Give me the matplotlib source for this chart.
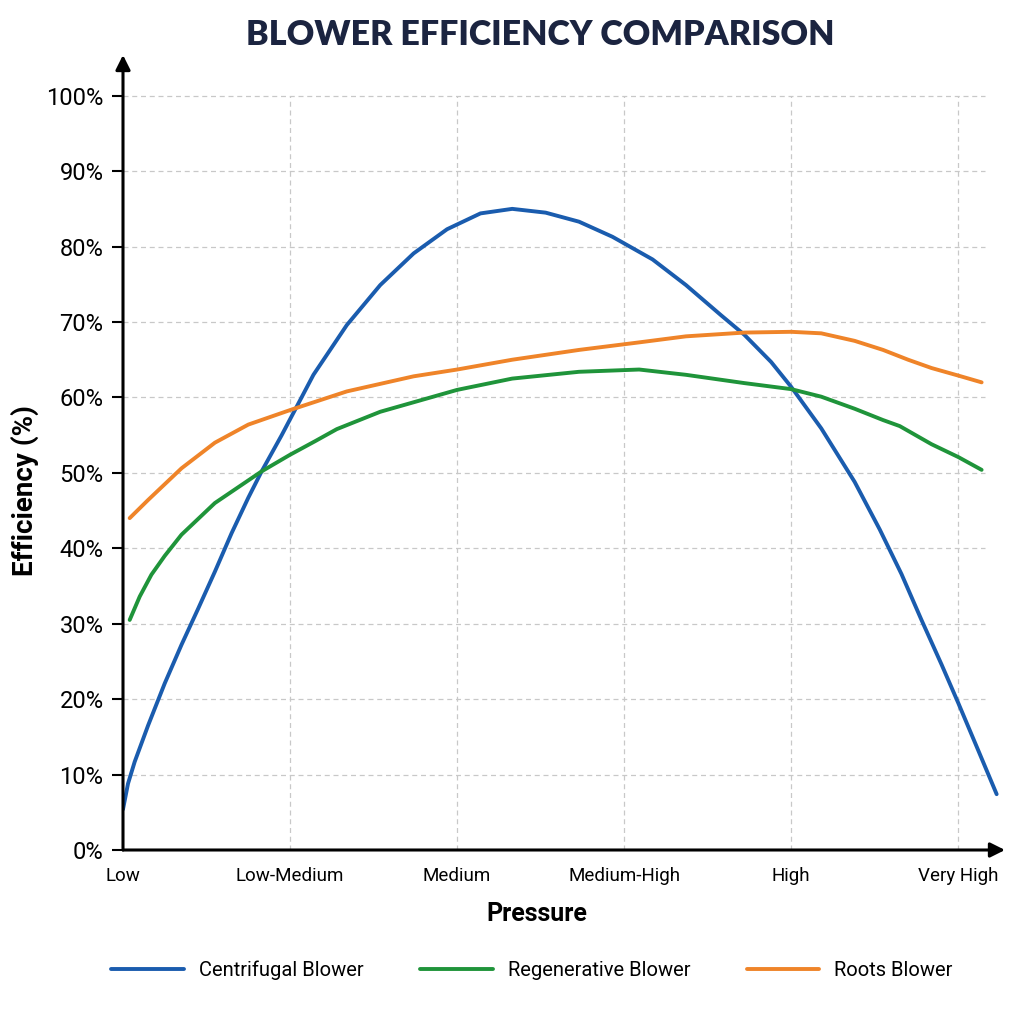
import matplotlib.pyplot as plt
from matplotlib import font_manager

# pressure categories on x axis
categories = ['Low', 'Low-Medium', 'Medium', 'Medium-High', 'High', 'Very High']

# curve points (x in category units, y in %)
centrifugal_x = [0, 0.03, 0.07, 0.15, 0.25, 0.35, 0.45, 0.55, 0.65, 0.75, 0.83, 0.95, 1.0, 1.14, 1.34,
                 1.54, 1.74, 1.94, 2.14, 2.33, 2.53, 2.73, 2.93, 3.17, 3.37, 3.58, 3.72, 3.88, 4.0, 4.18,
                 4.38, 4.53, 4.66, 4.78, 4.9, 5.0, 5.12, 5.23]
centrifugal_y = [5.4, 8.8, 11.7, 16.5, 22.1, 27.2, 32.0, 36.9, 42.0, 46.7, 50.2, 55.0, 57.1, 63.0, 69.6,
                 74.9, 79.1, 82.3, 84.4, 85.0, 84.5, 83.3, 81.3, 78.3, 74.9, 70.9, 68.3, 64.7, 61.4, 55.9,
                 48.8, 42.5, 36.6, 30.5, 24.6, 19.5, 13.2, 7.4]

regenerative_x = [0.04, 0.1, 0.17, 0.25, 0.35, 0.55, 0.83, 1.0, 1.15, 1.28, 1.54, 2.0, 2.33, 2.73, 3.09,
                  3.37, 3.72, 4.0, 4.18, 4.38, 4.55, 4.65, 4.84, 5.0, 5.14]
regenerative_y = [30.5, 33.6, 36.5, 39.0, 41.8, 46.0, 50.2, 52.4, 54.2, 55.8, 58.1, 61.0, 62.5, 63.4, 63.7,
                  63.0, 61.9, 61.1, 60.1, 58.5, 57.0, 56.2, 53.8, 52.1, 50.4]

roots_x = [0.04, 0.15, 0.35, 0.55, 0.75, 1.01, 1.34, 1.74, 2.0, 2.33, 2.73, 3.09, 3.37, 3.72, 4.0,
           4.18, 4.38, 4.55, 4.7, 4.84, 5.0, 5.14]
roots_y = [44.0, 46.4, 50.6, 54.0, 56.4, 58.4, 60.8, 62.8, 63.7, 65.0, 66.3, 67.3, 68.1, 68.6, 68.7,
           68.5, 67.5, 66.3, 65.0, 63.9, 62.9, 62.0]

yticks = [0, 10, 20, 30, 40, 50, 60, 70, 80, 90, 100]

installed = {f.name for f in font_manager.fontManager.ttflist}
narrow = ['Liberation Sans Narrow', 'DejaVu Sans'] if 'Liberation Sans Narrow' in installed else ['Roboto', 'DejaVu Sans']

fig = plt.figure(figsize=(10.24, 10.24), dpi=100)
ax = fig.add_axes([123 / 1024, 174 / 1024, 882 / 1024, 795 / 1024])
ax.set_xlim(0, 5.28)
ax.set_ylim(0, 105.4)

# grid, drawn by hand so it stops short of the arrows
ax.hlines(yticks[1:], 0, 5.16, colors='#c8c8c8', linestyles=(0, (4, 3)), linewidth=0.9, zorder=0)
ax.vlines(range(1, len(categories)), 0, 100, colors='#c8c8c8', linestyles=(0, (4, 3)), linewidth=0.9, zorder=0)

ax.plot(centrifugal_x, centrifugal_y, color='#1a5cae', lw=2.8, label='Centrifugal Blower', solid_capstyle='round', solid_joinstyle='round')
ax.plot(regenerative_x, regenerative_y, color='#1f943a', lw=2.8, label='Regenerative Blower', solid_capstyle='round', solid_joinstyle='round')
ax.plot(roots_x, roots_y, color='#ef8429', lw=2.8, label='Roots Blower', solid_capstyle='round', solid_joinstyle='round')

for s in ax.spines.values():
    s.set_visible(False)
ax.annotate('', xy=(1, 0), xytext=(0, 0), xycoords='axes fraction',
            arrowprops=dict(arrowstyle='-|>', color='black', lw=2.2, mutation_scale=22, shrinkA=0, shrinkB=0))
ax.annotate('', xy=(0, 1), xytext=(0, 0), xycoords='axes fraction',
            arrowprops=dict(arrowstyle='-|>', color='black', lw=2.2, mutation_scale=22, shrinkA=0, shrinkB=0))

ax.set_yticks(yticks)
ax.set_yticklabels([f'{v}%' for v in yticks], family=narrow, fontsize=17)
ax.tick_params(axis='y', length=8, width=1.5, pad=6)
ax.set_xticks(range(len(categories)))
ax.set_xticklabels(categories, family=narrow, fontsize=13.5)
ax.tick_params(axis='x', length=0, pad=12)

fig.text(25 / 1024, 1 - 491 / 1024, 'Efficiency (%)', rotation=90, ha='center', va='center',
         fontsize=20, fontweight='bold', family=['Roboto', 'DejaVu Sans'])
fig.text(537 / 1024, 1 - 914 / 1024, 'Pressure', ha='center', va='center',
         fontsize=18, fontweight='bold', family=['Roboto', 'DejaVu Sans'])
fig.text(540 / 1024, 1 - 35 / 1024, 'BLOWER EFFICIENCY COMPARISON', ha='center', va='center',
         fontsize=24.5, fontweight='heavy', color='#1b2440', family=['Lato', 'DejaVu Sans'])

fig.legend(loc='center', bbox_to_anchor=(532 / 1024, 1 - 970 / 1024), ncol=3, frameon=False,
           handlelength=3.6, columnspacing=2.8, handletextpad=0.75,
           prop={'family': narrow, 'size': 14.5})

fig.savefig('out.png', dpi=100, facecolor='white')
